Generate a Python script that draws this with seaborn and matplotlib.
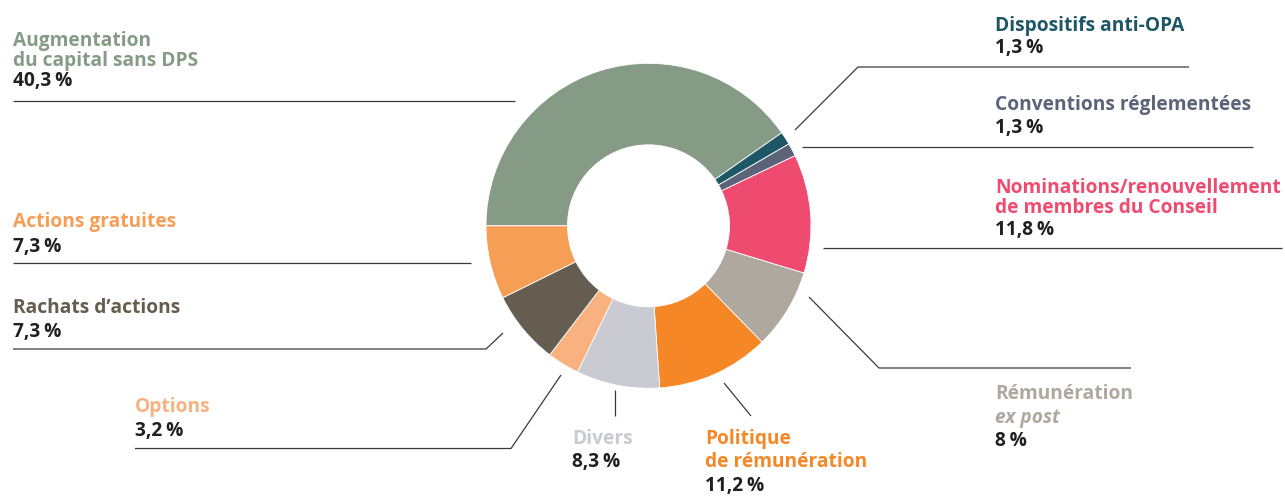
import matplotlib
matplotlib.use("Agg")
import matplotlib.pyplot as plt
import seaborn as sns

# ---------------- data ----------------
categories = [
    "Augmentation du capital sans DPS",
    "Dispositifs anti-OPA",
    "Conventions réglementées",
    "Nominations/renouvellement de membres du Conseil",
    "Rémunération ex post",
    "Politique de rémunération",
    "Divers",
    "Options",
    "Rachats d’actions",
    "Actions gratuites",
]
shares = [40.3, 1.3, 1.3, 11.8, 8.0, 11.2, 8.3, 3.2, 7.3, 7.3]
value_labels = ["40,3\u2009%", "1,3\u2009%", "1,3\u2009%", "11,8\u2009%", "8\u2009%", "11,2\u2009%",
                "8,3\u2009%", "3,2\u2009%", "7,3\u2009%", "7,3\u2009%"]
title_lines = [
    ["Augmentation", "du capital sans DPS"],
    ["Dispositifs anti-OPA"],
    ["Conventions réglementées"],
    ["Nominations/renouvellement", "de membres du Conseil"],
    ["Rémunération", "ex post"],
    ["Politique", "de rémunération"],
    ["Divers"],
    ["Options"],
    ["Rachats d’actions"],
    ["Actions gratuites"],
]
italic_lines = {(4, 1)}

# ---------------- style ----------------
colors = ["#869B85", "#1D5765", "#5B6379", "#EF4B71", "#AFA89F",
          "#F58726", "#C9CAD2", "#F9B17F", "#655D4F", "#F79E56"]
value_color = "#231F20"
line_color = "#3A3A3A"

W, H = 1285, 496
CX, CY, R, RING = 648.5, 225.8, 162.5, 81.5

# label layout (pixel coords: x, baselines of each text line)
label_x = [13, 995, 995, 995, 995, 705, 572, 135, 13, 13]
label_baselines = [
    [46, 66, 86],
    [31, 53],
    [110, 133],
    [193, 213, 235],
    [399, 422.5, 445.5],
    [444, 467, 490.5],
    [444, 467],
    [412, 436],
    [313, 337],
    [227, 252],
]
leader_paths = [
    [(13, 101), (515, 101)],
    [(795, 130), (858, 67), (1189, 67)],
    [(802, 146.5), (1253, 146.5)],
    [(823, 248), (1282, 248)],
    [(809, 297), (879, 368), (1131, 368)],
    [(724, 383), (751, 416)],
    [(615, 390), (615, 416)],
    [(561, 375), (511, 448.5), (135, 448.5)],
    [(503, 333), (486, 349), (13, 349)],
    [(13, 263), (471, 263)],
]

sns.set_theme(style="white")
plt.rcParams["font.family"] = ["Open Sans", "DejaVu Sans"]

fig = plt.figure(figsize=(W / 100, H / 100), dpi=100)
ax = fig.add_axes([0, 0, 1, 1])

ax.pie(shares, colors=colors, startangle=180, counterclock=True,
       radius=R, center=(CX, CY),
       wedgeprops=dict(width=RING, edgecolor="white", linewidth=0.6))

ax.set_xlim(0, W)
ax.set_ylim(H, 0)
ax.set_aspect("equal")
ax.axis("off")

FS = 13.8
for i, cat in enumerate(categories):
    lines = title_lines[i]
    ys = label_baselines[i]
    for j, txt in enumerate(lines):
        ax.text(label_x[i], ys[j], txt, color=colors[i], fontsize=FS,
                fontweight="bold",
                fontstyle="italic" if (i, j) in italic_lines else "normal",
                va="baseline", ha="left")
    ax.text(label_x[i], ys[len(lines)], value_labels[i], color=value_color,
            fontsize=FS, fontweight="bold", va="baseline", ha="left")
    xs = [p[0] for p in leader_paths[i]]
    yy = [p[1] for p in leader_paths[i]]
    ax.plot(xs, yy, color=line_color, lw=0.9, solid_capstyle="butt")

fig.savefig("out.png", dpi=100)
